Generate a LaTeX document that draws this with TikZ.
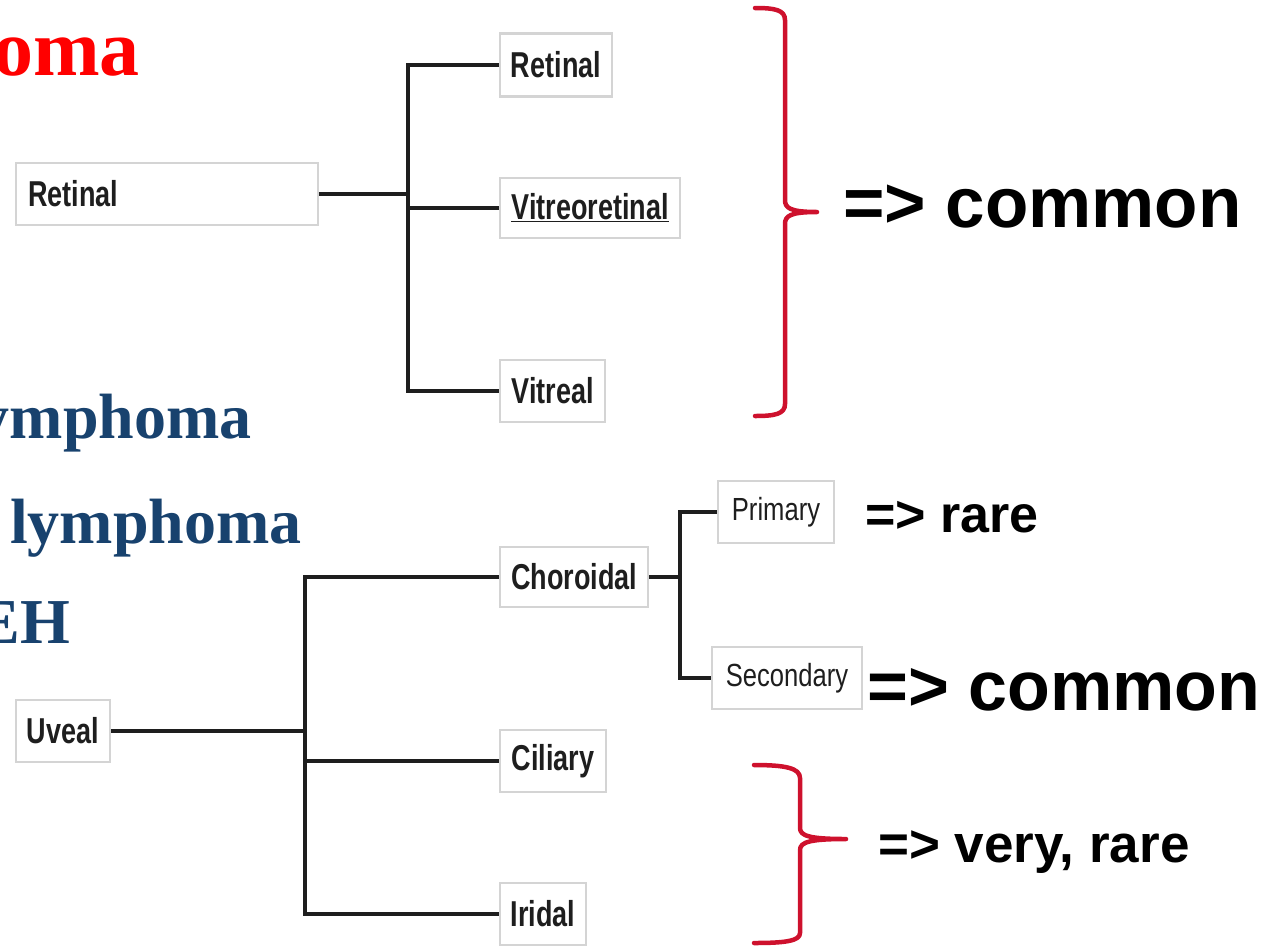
\documentclass[tikz,border=0pt]{standalone}
\usepackage{fontspec}
\setmainfont{Liberation Serif}
\newfontfamily\arial{Liberation Sans}
\definecolor{braceRed}{RGB}{206,17,45}
\definecolor{titleBlue}{RGB}{24,66,110}
\definecolor{boxLine}{RGB}{212,212,212}
\definecolor{ink}{RGB}{30,30,30}

% labels inside the tree boxes (narrow sans)
\newcommand{\boxlbl}[1]{\scalebox{0.75}[1]{\arial\bfseries\fontsize{36}{40}\selectfont #1}}
\newcommand{\boxlblreg}[1]{\scalebox{0.8}[1]{\arial\fontsize{32}{36}\selectfont #1}}

\tikzset{
  box/.style={draw=boxLine, line width=2.5pt, fill=white, inner sep=0pt, text=ink},
  edge/.style={draw=ink, line width=3.5pt},
  brace/.style={draw=braceRed, line width=4.5pt, line cap=round, line join=round},
  serifhead/.style={inner sep=0pt, anchor=base east, font=\bfseries\fontsize{64}{70}\selectfont},
  note/.style={inner sep=0pt, anchor=base west, text=black},
}

\begin{document}
\begin{tikzpicture}[x=1pt, y=-1pt]
\useasboundingbox (0,0) rectangle (1281,946);
\clip (0,0) rectangle (1281,946);

% headings on the left, partly cut off
\node[serifhead, text=red, font=\bfseries\fontsize{80}{88}\selectfont] (h1) at (140,75) {oma};
\node[serifhead, text=titleBlue] (h2) at (252,438) {ymphoma};
\node[serifhead, text=titleBlue] (h3) at (302,543) {lymphoma};
\node[serifhead, text=titleBlue] (h4) at (70,643) {EH};

% retinal tree
\node[box, minimum height=62pt, text width=278pt, inner xsep=12pt, align=left] (r0) at (167,194) {\boxlbl{Retinal}};
\node[box, minimum width=112pt, minimum height=63pt] (r1) at (556,65) {\boxlbl{Retinal}};
\node[box, minimum width=180pt, minimum height=60pt] (r2) at (590,208) {\boxlbl{\underline{Vitreoretinal}}};
\node[box, minimum width=105pt, minimum height=62pt] (r3) at (552.5,391) {\boxlbl{Vitreal}};

\coordinate (ja) at (408,194);
\draw[edge] (r0.east) -- (ja);
\draw[edge] (ja) |- (r1.west);
\draw[edge] (ja) |- (r2.west);
\draw[edge] (ja) |- (r3.west);

% uveal tree
\node[box, minimum width=94pt, minimum height=62pt] (u0) at (63,731) {\boxlbl{Uveal}};
\node[box, minimum width=148pt, minimum height=60pt] (u1) at (574,577) {\boxlbl{Choroidal}};
\node[box, minimum width=106pt, minimum height=62pt] (u2) at (553,761) {\boxlbl{Ciliary}};
\node[box, minimum width=86pt, minimum height=62pt] (u3) at (543,914) {\boxlbl{Iridal}};
\node[box, minimum width=116pt, minimum height=62pt] (p1) at (776,512) {\boxlblreg{Primary}};
\node[box, minimum width=150pt, minimum height=62pt] (p2) at (787,678) {\boxlblreg{Secondary}};

\coordinate (jb) at (305,731);
\draw[edge] (u0.east) -- (jb);
\draw[edge] (jb) |- (u1.west);
\draw[edge] (jb) |- (u2.west);
\draw[edge] (jb) |- (u3.west);

\coordinate (jc) at (680,577);
\draw[edge] (u1.east) -- (jc);
\draw[edge] (jc) |- (p1.west);
\draw[edge] (jc) |- (p2.west);

% braces
\draw[brace] (755,8) .. controls (775,8) and (785,10) .. (785,20) -- (785,200)
  .. controls (785,208) and (790,212) .. (817,212)
  .. controls (790,212) and (785,216) .. (785,224) -- (785,404)
  .. controls (785,414) and (775,416) .. (755,416);
\draw[brace] (754,765) .. controls (785,765) and (800,768) .. (800,778) -- (800,828)
  .. controls (800,836) and (810,839) .. (846,839)
  .. controls (810,839) and (800,842) .. (800,850) -- (800,933)
  .. controls (800,941) and (785,943) .. (754,943);

% annotations
\node[note, font=\arial\bfseries\fontsize{71}{78}\selectfont] (c1) at (843,227) {=> common};
\node[note, font=\arial\bfseries\fontsize{52}{58}\selectfont] (c2) at (865,532) {=> rare};
\node[note, font=\arial\bfseries\fontsize{70}{78}\selectfont] (c3) at (867,710) {=> common};
\node[note, font=\arial\bfseries\fontsize{53}{58}\selectfont] (c4) at (878,862) {=> very, rare};
\end{tikzpicture}
\end{document}
